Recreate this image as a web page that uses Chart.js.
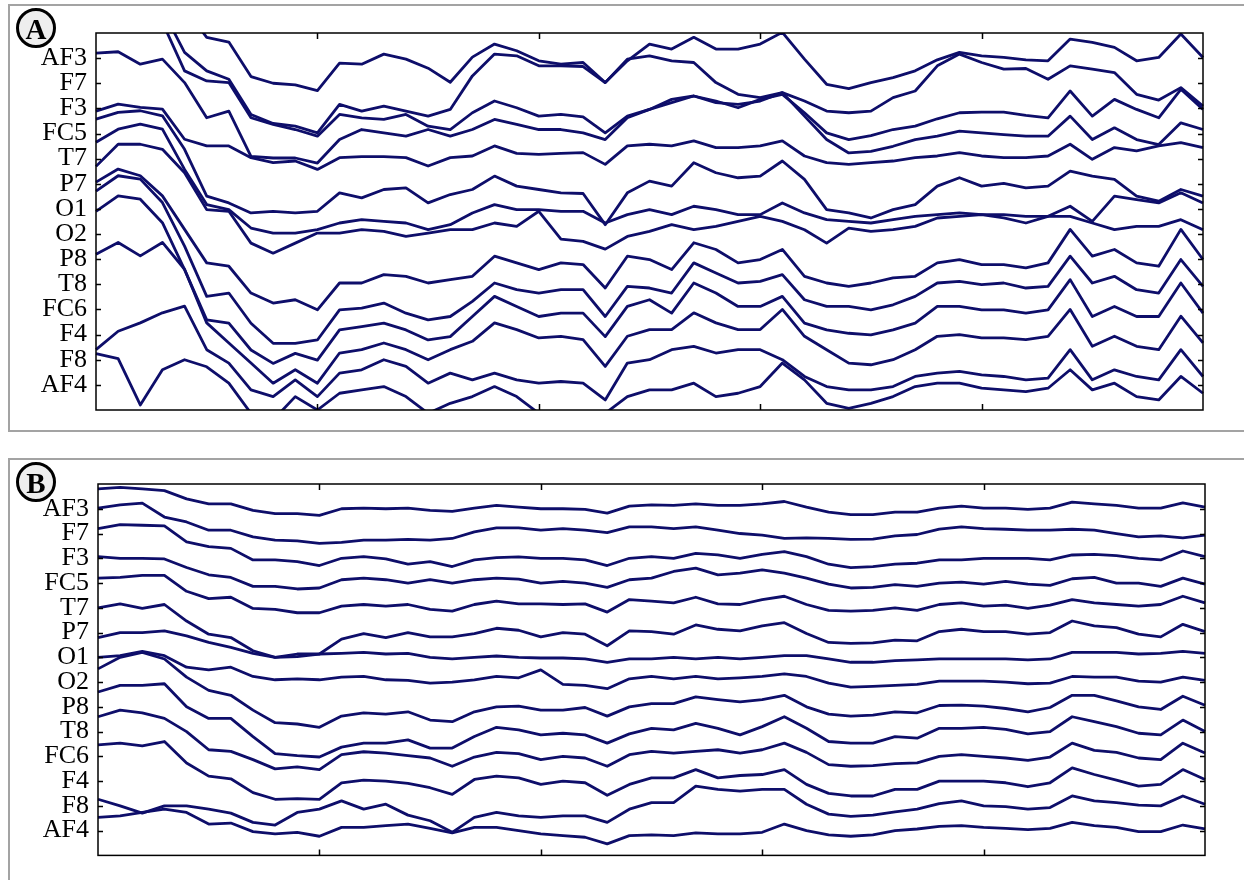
<!DOCTYPE html>
<html>
<head>
<meta charset="utf-8">
<script src="https://cdn.jsdelivr.net/npm/chart.js@4.4.1/dist/chart.umd.min.js"></script>
<style>
  html, body { margin: 0; padding: 0; background: #fff; overflow: hidden; }
  body { width: 1244px; height: 880px; position: relative; }
  .frame { position: absolute; border: 2px solid #a3a3a3; box-sizing: border-box; }
  .panel { position: absolute; left: 0; }
  .badge {
    position: absolute; width: 40px; height: 40px; box-sizing: border-box;
    border: 3px solid #000; border-radius: 50%; background: #eeeeee;
    font: bold 29px "Liberation Serif", "Times New Roman", serif;
    line-height: 36px; text-align: center; color: #000;
  }
</style>
</head>
<body>
<div class="frame" style="left:8px; top:4px; width:1250px; height:428px;"></div>
<div class="frame" style="left:8px; top:458px; width:1250px; height:440px;"></div>
<div class="panel" style="top:0px;"><canvas id="chartA" width="1244" height="440"></canvas></div>
<div class="panel" style="top:450px;"><canvas id="chartB" width="1244" height="430"></canvas></div>
<div class="badge" style="left:16px; top:8px;">A</div>
<div class="badge" style="left:16px; top:462px;">B</div>
<script>
// channel names, top to bottom
const channels = ["AF3", "F7", "F3", "FC5", "T7", "P7", "O1", "O2", "P8", "T8", "FC6", "F4", "F8", "AF4"];
const samples = Array.from({ length: 51 }, (_, i) => i);
const xTicks = [10, 20, 30, 40];
const spacing = 75; // vertical gap between channel baselines

// panel A: raw signals (deviation from channel baseline)
const rawAF3 = [150,150,150,150,150,62,48,-55,-75,-80,-97,-15,-18,12,-3,-30,-72,3,42,22,-8,-18,-13,-73,-8,42,27,62,27,27,42,77,-3,-78,-91,-73,-58,-38,-5,17,7,2,-5,-8,57,47,32,-8,2,72,2];
const rawF7 = [220,220,220,220,92,37,12,-93,-120,-128,-148,-63,-83,-68,-83,-98,-78,22,87,82,52,52,50,2,72,82,67,62,2,-33,-43,-28,-53,-83,-88,-83,-43,-23,52,87,62,42,44,12,52,42,32,-33,-50,-13,-68];
const rawF3 = [300,300,300,257,112,82,77,-28,-48,-63,-83,-18,-28,-33,-18,-53,-63,-13,22,2,-23,-18,-25,-73,-23,-3,17,37,22,2,27,42,-13,-73,-93,-81,-63,-53,-31,-13,-11,-11,-21,-28,52,-23,27,-3,-28,57,-3];
const rawFC5 = [240,244,207,222,152,47,67,-68,-73,-73,-88,-18,12,2,-8,12,-8,12,42,27,12,12,2,-18,47,72,102,112,92,87,97,122,52,-18,-58,-53,-38,-18,-8,7,2,-3,-8,-8,52,-18,17,-18,-33,32,12];
const rawT7 = [142,163,153,148,58,38,38,3,-12,-7,-32,3,6,6,3,-22,3,8,38,16,13,16,18,-17,38,43,38,53,33,33,38,53,8,-12,-17,-12,-7,3,8,18,8,3,3,8,43,-2,33,23,38,48,33];
const rawP7 = [193,213,218,203,103,-37,-57,-87,-82,-87,-82,-27,-42,-17,-12,-57,-32,-17,23,-7,-17,-27,-29,-122,-27,8,-7,63,33,18,23,68,13,-77,-87,-102,-77,-62,-7,18,-7,1,-12,-7,38,23,13,-37,-52,-17,-37];
const rawO1 = [199,238,253,238,118,13,-2,-57,-72,-72,-62,-42,-32,-37,-42,-62,-47,-12,13,-2,-2,-7,-7,-42,-17,-2,-17,8,-2,-17,-17,18,-12,-32,-37,-42,-32,-22,-17,-12,-17,-17,-22,-22,8,-37,38,28,18,48,18];
const rawO2 = [202,268,268,253,183,73,68,-27,-57,-27,3,3,13,8,-7,3,13,13,33,23,68,-15,-22,-45,-7,8,28,13,23,38,53,38,13,-27,18,8,13,23,48,53,58,48,33,53,53,33,13,23,23,43,13];
const rawP8 = [230,269,249,189,89,-11,-21,-101,-131,-121,-151,-71,-71,-46,-51,-71,-61,-51,9,-11,-31,-11,-16,-86,9,-1,-31,49,29,-11,-1,29,-51,-71,-81,-71,-56,-51,-11,-1,-16,-16,-26,-11,89,9,29,-11,-21,89,-1];
const rawT8 = [278,324,314,244,114,-36,-26,-116,-176,-176,-166,-76,-71,-56,-86,-106,-96,-51,4,-16,-26,-16,-16,-96,-6,-11,-26,64,34,4,9,29,-46,-66,-66,-76,-61,-36,4,9,-1,4,-11,-6,84,4,24,-16,-26,74,-6];
const rawFC6 = [293,339,329,259,119,-31,-41,-121,-161,-131,-151,-61,-51,-41,-61,-91,-81,-21,39,9,-21,-11,-11,-81,9,29,-11,79,49,9,9,39,-41,-61,-71,-76,-61,-41,9,9,-1,-1,-11,-1,89,-21,9,-21,-21,79,-11];
const rawF4 = [240,275,235,275,195,35,-25,-85,-145,-105,-145,-55,-45,-25,-45,-75,-45,-20,35,15,-10,-5,-15,-95,-5,15,15,65,35,15,15,75,-5,-45,-85,-90,-75,-45,-5,0,-10,-10,-15,-5,75,-35,-5,-35,-45,55,-25];
const rawF8 = [30,85,110,140,160,30,-10,-90,-110,-60,-110,-40,-30,0,-20,-70,-40,-60,-40,-60,-70,-65,-70,-120,-10,0,30,40,20,30,30,0,-50,-80,-90,-90,-80,-50,-40,-35,-45,-50,-60,-55,30,-60,-30,-50,-60,30,-50];
const rawAF4 = [93,78,-60,45,75,54,5,-85,-105,-35,-75,-25,-15,-5,-35,-85,-55,-35,-5,-35,-85,-115,-85,-85,-35,-15,-15,5,-35,-25,-5,65,15,-55,-70,-55,-35,-5,5,5,-10,-15,-20,-10,45,-15,5,-35,-45,25,-25];

// panel B: cleaned signals
const cleanAF3 = [60,65,60,55,30,15,15,-5,-15,-15,-20,0,2,0,2,-5,-8,2,10,5,0,0,-2,-13,8,12,10,15,10,10,15,22,5,-10,-18,-18,-10,-10,2,8,2,2,-2,2,20,15,10,2,2,18,5];
const cleanF7 = [77,87,92,50,35,10,10,-10,-20,-22,-30,-27,-20,-20,-18,-20,-15,5,17,17,10,15,10,3,20,20,15,20,10,0,-5,-15,-13,-15,-18,-17,-7,-3,13,20,15,13,10,10,13,10,0,-10,-7,-13,-5];
const cleanF3 = [90,102,100,98,50,35,30,-5,-5,-10,-22,0,5,-2,-18,-10,-25,-5,2,4,0,0,-5,-22,0,5,0,15,10,0,12,20,5,-18,-28,-25,-18,-15,-5,-5,0,0,0,-5,10,12,8,0,-5,22,5];
const cleanFC5 = [80,75,75,73,47,25,17,-10,-10,-18,-15,10,15,10,0,10,0,10,15,12,0,5,0,-13,10,15,35,45,25,30,40,30,15,-3,-15,-13,-5,-10,0,3,-3,5,-3,-7,13,17,0,0,-10,15,-3];
const cleanT7 = [90,92,98,98,50,28,32,-2,-5,-15,-15,5,10,5,10,-5,-10,10,20,12,12,10,12,-13,25,20,15,32,12,10,25,35,10,-8,-10,-8,0,-8,10,15,5,8,-2,8,25,15,10,5,10,35,15];
const cleanP7 = [75,87,73,85,35,-5,-15,-55,-75,-65,-65,-20,-3,-15,0,-13,-13,-3,13,7,-13,0,-5,-40,5,3,-5,23,10,5,20,30,-3,-30,-33,-31,-23,-25,3,10,3,3,-5,0,35,20,15,-5,-13,25,3];
const cleanO1 = [60,75,75,80,65,45,30,12,0,2,10,12,15,10,12,0,-5,0,4,0,-2,-2,-5,-15,-5,-5,0,-5,0,-5,0,5,5,-5,-15,-15,-10,-8,-5,-5,-5,-5,-8,-5,15,15,15,10,12,18,12];
const cleanO2 = [75,80,93,80,45,37,45,17,7,10,7,15,17,7,5,-3,0,7,17,13,37,-7,-10,-20,10,17,10,17,10,13,17,25,17,-3,-15,-13,-10,-7,3,3,3,0,-5,-3,17,15,15,3,0,15,5];
const cleanP8 = [115,150,165,145,90,50,35,-10,-48,-52,-62,-28,-18,-22,-15,-40,-45,-15,0,2,-10,-10,-2,-28,0,10,10,30,22,15,22,35,0,-22,-28,-25,-15,-18,4,5,2,-5,-15,-2,35,35,18,0,-8,32,5];
const cleanT8 = [120,140,140,145,75,40,40,-15,-67,-73,-77,-47,-35,-35,-25,-50,-50,-15,13,5,-10,-5,-10,-35,-7,10,5,25,10,-10,15,45,10,-30,-35,-35,-15,-20,10,10,13,7,-7,0,45,30,15,-5,-10,35,0];
const cleanFC6 = [120,140,132,115,75,20,15,-10,-38,-32,-40,5,14,10,2,-5,-30,-2,12,8,-10,0,-5,-30,5,15,10,15,20,10,20,40,12,-25,-30,-28,-22,-20,0,5,0,-5,-12,-2,40,18,12,-5,-10,40,10];
const cleanF4 = [110,115,107,120,55,15,7,-35,-55,-53,-55,-5,3,0,-7,-20,-40,5,15,10,-10,0,-5,-43,-10,10,10,35,10,17,20,35,-10,-37,-45,-45,-25,-25,0,0,0,-5,-17,-5,40,20,3,-15,-10,35,5];
const cleanF8 = [20,0,-22,0,0,-10,-22,-50,-58,-20,-10,15,-10,5,-28,-45,-80,-35,-20,-30,-35,-30,-30,-50,-10,10,10,60,50,45,50,50,5,-25,-32,-28,-18,-10,7,15,0,-2,-10,-5,30,15,10,2,0,30,5];
const cleanAF4 = [40,45,55,65,55,20,23,-3,-10,-5,-17,10,10,15,20,7,-7,10,10,0,-10,-15,-20,-40,-15,-13,-15,-7,-10,-10,-5,20,0,-13,-17,-13,0,5,13,15,10,7,3,7,25,15,10,-3,-3,17,5];

const rawSeries = [rawAF3, rawF7, rawF3, rawFC5, rawT7, rawP7, rawO1, rawO2, rawP8, rawT8, rawFC6, rawF4, rawF8, rawAF4];
const cleanSeries = [cleanAF3, cleanF7, cleanF3, cleanFC5, cleanT7, cleanP7, cleanO1, cleanO2, cleanP8, cleanT8, cleanFC6, cleanF4, cleanF8, cleanAF4];

const lineColor = "#0e0e6a";
const baseline = (k) => (channels.length - k) * spacing;

// box around the plot plus inward tick marks on all four sides
const frameTicks = {
  id: "frameTicks",
  afterDatasetsDraw(chart) {
    const { ctx, chartArea: a, scales } = chart;
    ctx.save();
    ctx.strokeStyle = "#000";
    ctx.lineWidth = 1.5;
    ctx.strokeRect(a.left, a.top, a.right - a.left, a.bottom - a.top);
    ctx.beginPath();
    channels.forEach((c, k) => {
      const y = Math.round(scales.y.getPixelForValue(baseline(k))) + 0.5;
      ctx.moveTo(a.left, y); ctx.lineTo(a.left + 5, y);
      ctx.moveTo(a.right, y); ctx.lineTo(a.right - 5, y);
    });
    xTicks.forEach((t) => {
      const x = Math.round(scales.x.getPixelForValue(t)) + 0.5;
      ctx.moveTo(x, a.bottom); ctx.lineTo(x, a.bottom - 6);
      ctx.moveTo(x, a.top); ctx.lineTo(x, a.top + 6);
    });
    ctx.stroke();
    ctx.restore();
  },
};

function makeChart(id, series, axisWidth, padding) {
  const ctx = document.getElementById(id).getContext("2d");
  return new Chart(ctx, {
    type: "line",
    data: {
      labels: samples,
      datasets: series.map((vals, k) => ({
        label: channels[k],
        data: vals.map((v) => v + baseline(k)),
        borderColor: lineColor,
        borderWidth: 2.8,
        borderJoinStyle: "round",
        pointRadius: 0,
        fill: false,
        tension: 0,
      })),
    },
    options: {
      responsive: false,
      animation: false,
      layout: { padding: padding },
      plugins: {
        legend: { display: false },
        tooltip: { enabled: false },
      },
      scales: {
        x: {
          display: false,
          offset: false,
        },
        y: {
          min: 0,
          max: (channels.length + 1) * spacing,
          afterBuildTicks: (scale) => {
            scale.ticks = channels.map((c, k) => ({ value: baseline(k) }));
          },
          afterFit: (scale) => {
            scale.width = axisWidth;
          },
          grid: { display: false, drawTicks: false },
          border: { display: false },
          ticks: {
            autoSkip: false,
            padding: 9,
            color: "#000",
            font: { family: "'Liberation Serif', 'Times New Roman', serif", size: 26 },
            callback: (value) => channels[channels.length - Math.round(value / spacing)],
          },
        },
      },
    },
    plugins: [frameTicks],
  });
}

makeChart("chartA", rawSeries, 96, { top: 33, bottom: 30, left: 0, right: 41 });
makeChart("chartB", cleanSeries, 98, { top: 34, bottom: 21, left: 0, right: 39 });
</script>
</body>
</html>
